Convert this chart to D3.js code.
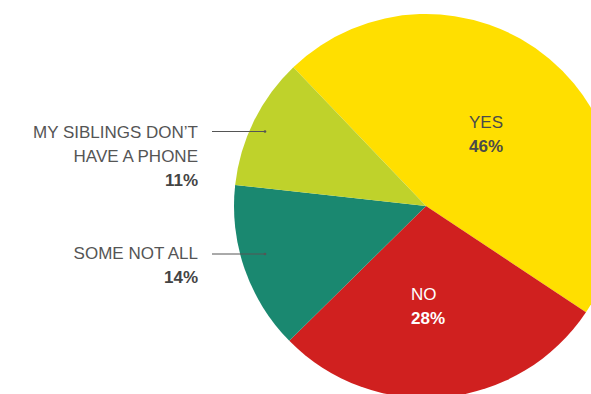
<!DOCTYPE html>
<html><head><meta charset="utf-8">
<script src="https://cdn.jsdelivr.net/npm/d3@7"></script>
<style>html,body{margin:0;padding:0;background:#fff;overflow:hidden}</style>
</head><body>
<svg id="c" width="591" height="394"></svg>
<script>
const categories = ["YES", "NO", "SOME NOT ALL", "MY SIBLINGS DON’T HAVE A PHONE"];
const values = [46, 28, 14, 11];
const valueLabels = ["46%", "28%", "14%", "11%"];
const colors = ["#FFDF00", "#D0201F", "#1A8870", "#BFD22B"];

const svg = d3.select("#c");
const cx = 426, cy = 206, r = 192;
const g = svg.append("g").attr("transform", `translate(${cx},${cy})`);
const start = -43.7 * Math.PI / 180;
const pie = d3.pie().sort(null).value(d => d).startAngle(start).endAngle(start + 2 * Math.PI);
const arcs = pie(values);
const arc = d3.arc().innerRadius(0).outerRadius(r);
g.selectAll("path").data(arcs).join("path")
  .attr("d", arc).attr("fill", (d, i) => colors[i]);

const font = "'Liberation Sans', Arial, Helvetica, sans-serif";
const fs = 17;
// inside labels
const inside = [
  {i: 0, x: 469, y: 128, fill: "#4a4a4a"},
  {i: 1, x: 411, y: 300, fill: "#ffffff"}
];
inside.forEach(o => {
  svg.append("text").attr("x", o.x).attr("y", o.y).attr("font-family", font)
    .attr("font-size", fs).attr("fill", o.fill).text(categories[o.i]);
  svg.append("text").attr("x", o.x).attr("y", o.y + 24).attr("font-family", font)
    .attr("font-size", fs).attr("font-weight", "bold").attr("fill", o.fill).text(valueLabels[o.i]);
});

// outside labels
const outside = [
  {i: 3, lines: ["MY SIBLINGS DON’T", "HAVE A PHONE"], y: 138, ly: 131.5},
  {i: 2, lines: ["SOME NOT ALL"], y: 259, ly: 254}
];
outside.forEach(o => {
  o.lines.forEach((t, k) => {
    svg.append("text").attr("x", 198).attr("y", o.y + k * 24).attr("text-anchor", "end")
      .attr("font-family", font).attr("font-size", fs).attr("fill", "#555").text(t);
  });
  svg.append("text").attr("x", 198).attr("y", o.y + o.lines.length * 24).attr("text-anchor", "end")
    .attr("font-family", font).attr("font-size", fs).attr("font-weight", "bold").attr("fill", "#444")
    .text(valueLabels[o.i]);
  svg.append("line").attr("x1", 212).attr("x2", 265).attr("y1", o.ly).attr("y2", o.ly)
    .attr("stroke", "#555").attr("stroke-width", 1);
  svg.append("circle").attr("cx", 265).attr("cy", o.ly).attr("r", 1.3).attr("fill", "#555");
});
</script>
</body></html>
